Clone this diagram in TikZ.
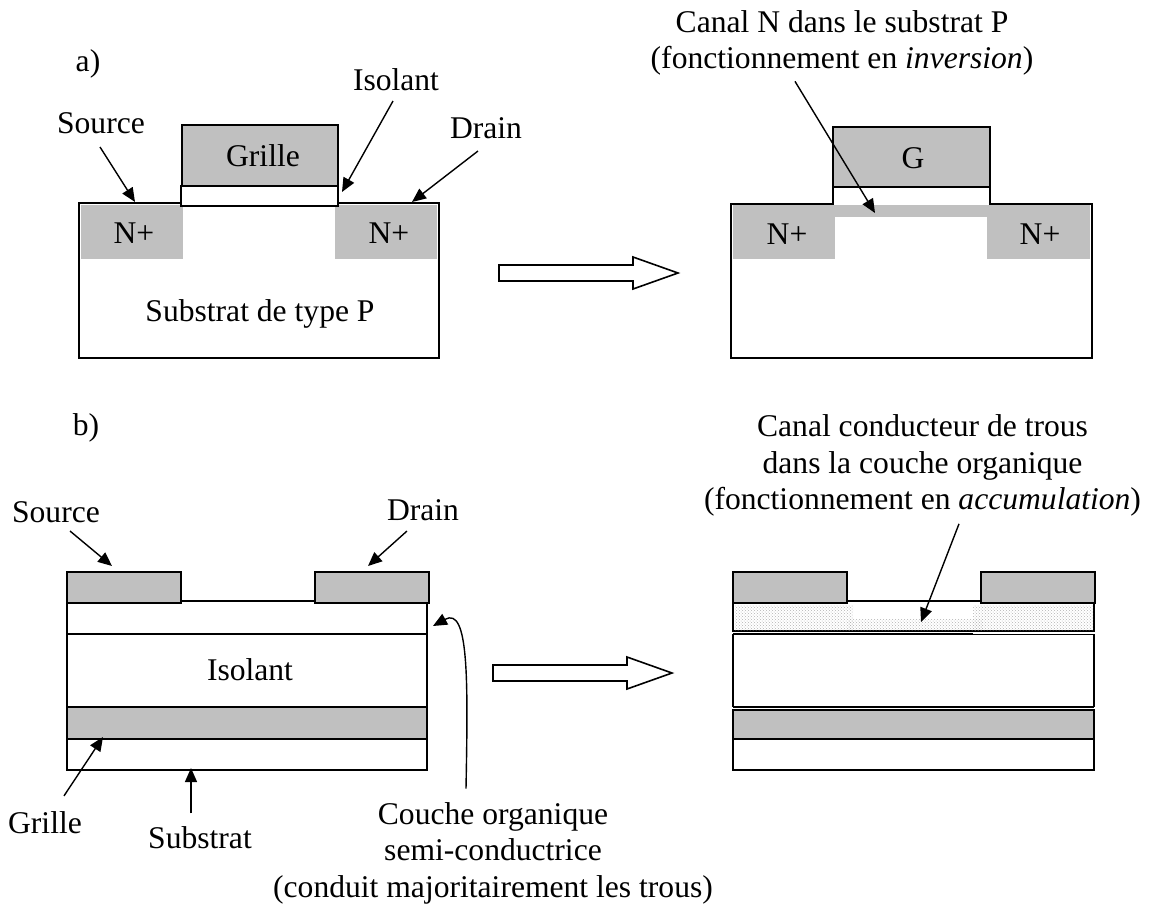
\documentclass[tikz,border=0pt]{standalone}
\usepackage{fontspec}
\setmainfont{Liberation Serif}
\usetikzlibrary{arrows.meta,patterns}
\definecolor{couche}{RGB}{192,192,192}
\tikzset{
	lbl/.style={inner sep=1pt,anchor=base,font=\fontsize{31.6}{36.5}\selectfont},
	bloc/.style={inner sep=1pt,align=center,font=\fontsize{31.6}{36.5}\selectfont},
	layer/.style={draw,line width=1.6pt,fill=white},
	metal/.style={draw,line width=1.6pt,fill=couche},
	dope/.style={fill=couche},
	dotted zone/.style={pattern=crosshatch dots,pattern color=black!30},
	contour/.style={line width=1.6pt},
	creuse/.style={draw,line width=1.6pt,fill=white},
	fleche/.style={line width=1.4pt,-{Triangle[length=14pt,width=12pt]}}
}

\begin{document}
\begin{tikzpicture}[x=1pt,y=-1pt]
	\useasboundingbox (0,0) rectangle (1150,903);

	% a) gauche
	\draw[layer] (79,203) rectangle (439,358);
	\fill[dope] (81,205) rectangle (183,259);
	\fill[dope] (335,205) rectangle (437,259);
	\draw[metal] (182,125) rectangle (338,186);
	\draw[layer] (181,186) rectangle (338,206);
	\node[lbl] (NA1) at (134,243) {N+};
	\node[lbl] (NA2) at (389,243) {N+};
	\node[lbl] (GA) at (263,166) {Grille};
	\node[lbl] (SubA) at (260,321) {Substrat de type P};
	\node[lbl] (TagA) at (88,71) {a)};
	\node[lbl] (SrcA) at (101,133) {Source};
	\node[lbl] (IsoA) at (396,90) {Isolant};
	\node[lbl] (DrnA) at (486,138) {Drain};
	\coordinate (SrcAtip) at (135,202);
	\coordinate (IsoAtip) at (342,192);
	\coordinate (DrnAtip) at (412,202);
	\draw[fleche] ([shift={(-1,12.5)}]SrcA.south) -- (SrcAtip);
	\draw[fleche] ([shift={(-3,9.5)}]IsoA.south) -- (IsoAtip);
	\draw[fleche] ([shift={(-8,11.5)}]DrnA.south) -- (DrnAtip);

	% a) droite
	\draw[contour] (833,204) -- (731,204) -- (731,358) -- (1092,358) -- (1092,204) -- (990,204);
	\fill[dope] (733,205) rectangle (835,259);
	\fill[dope] (987,205) rectangle (1090,259);
	\fill[dope] (834,205) rectangle (988,217);
	\draw[metal] (833,127) rectangle (990,187);
	\draw[contour] (833,187) -- (833,205);
	\draw[contour] (990,187) -- (990,205);
	\node[lbl] (NB1) at (787,244) {N+};
	\node[lbl] (NB2) at (1040,244) {N+};
	\node[lbl] (GB) at (913,168) {G};
	\node[bloc] (CanalN) at (842,43) {Canal N dans le substrat P\\(fonctionnement en \textit{inversion})};
	\coordinate (CanalNtip) at (875,213);
	\draw[fleche] ([shift={(-47,4.6)}]CanalN.south) -- (CanalNtip);

	% fleches creuses
	\node[inner sep=0pt] (BlocA) at (499,273) {};
	\node[inner sep=0pt] (BlocB) at (493,673) {};
	\draw[creuse] (BlocA.center) ++(0,-8) -- ++(134,0) -- ++(0,-8) -- ++(45,16) -- ++(-45,16) -- ++(0,-8) -- ++(-134,0) -- cycle;
	\draw[creuse] (BlocB.center) ++(0,-8) -- ++(134,0) -- ++(0,-8) -- ++(45,16) -- ++(-45,16) -- ++(0,-8) -- ++(-134,0) -- cycle;

	% b) gauche
	\draw[layer] (67,601) rectangle (427,634);
	\draw[layer] (67,634) rectangle (427,707);
	\draw[metal] (67,707) rectangle (427,739);
	\draw[layer] (67,739) rectangle (427,770);
	\draw[metal] (67,572) rectangle (181,603);
	\draw[metal] (315,572) rectangle (429,603);
	\node[lbl] (IsoB) at (250,680) {Isolant};
	\node[lbl] (TagB) at (86,435) {b)};
	\node[lbl] (SrcB) at (56,522) {Source};
	\node[lbl] (DrnB) at (423,520) {Drain};
	\node[lbl] (GrlB) at (45,833) {Grille};
	\node[lbl] (SubB) at (200,848) {Substrat};
	\node[bloc] (Couche) at (493,853) {Couche organique\\semi-conductrice\\(conduit majoritairement les trous)};
	\coordinate (SrcBtip) at (112,566);
	\coordinate (DrnBtip) at (368,566);
	\coordinate (GrlBtip) at (103,737);
	\coordinate (SubBtip) at (191,768);
	\coordinate (CoucheTip) at (433,626);
	\draw[fleche] ([shift={(14,7.5)}]SrcB.south) -- (SrcBtip);
	\draw[fleche] ([shift={(-16,9.5)}]DrnB.south) -- (DrnBtip);
	\draw[fleche] ([shift={(19,-14)}]GrlB.north) -- (GrlBtip);
	\draw[fleche] ([shift={(-9,-11.4)}]SubB.north) -- (SubBtip);
	\draw[fleche] ([shift={(-27,-12.4)}]Couche.north) .. controls (468,680) and (469,606) .. (CoucheTip);

	% b) droite
	\draw[contour] (733,601) rectangle (1094,631);
	\fill[dotted zone] (735,605) rectangle (853,630);
	\fill[dotted zone] (973,605) rectangle (1093,630);
	\fill[dotted zone] (848,619) rectangle (983,630);
	\draw[contour] (733,634) -- (973,634);
	\draw[line width=.5pt] (973,634) -- (1094,634);
	\draw[contour] (733,634) -- (733,707);
	\draw[contour] (1094,634) -- (1094,707);
	\draw[metal] (733,710) rectangle (1094,739);
	\draw[contour] (733,707) -- (1094,707);
	\draw[layer] (733,739) rectangle (1094,770);
	\draw[metal] (733,572) rectangle (847,603);
	\draw[metal] (981,572) rectangle (1095,603);
	\node[bloc] (CanalT) at (922.5,465.6) {Canal conducteur de trous\\dans la couche organique\\(fonctionnement en \textit{accumulation})};
	\coordinate (CanalTtip) at (921,622);
	\draw[fleche] ([shift={(36.5,6.2)}]CanalT.south) -- (CanalTtip);
\end{tikzpicture}
\end{document}
